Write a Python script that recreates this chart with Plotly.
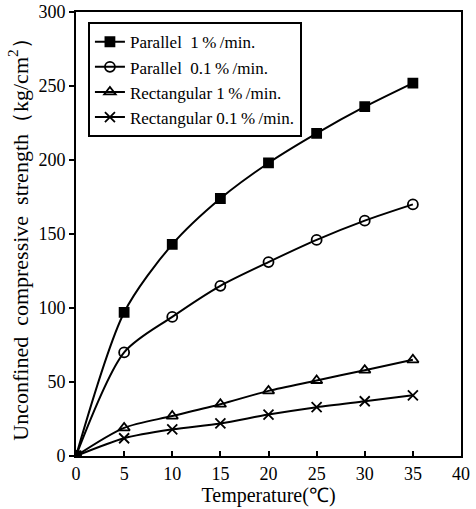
import plotly.graph_objects as go

# Temperature (°C) and unconfined compressive strength (kg/cm²)
temperature = [0, 5, 10, 15, 20, 25, 30, 35]
parallel_1 = [0, 97, 143, 174, 198, 218, 236, 252]
parallel_01 = [0, 70, 94, 115, 131, 146, 159, 170]
rect_1 = [0, 19, 27, 35, 44, 51, 58, 65]
rect_01 = [0, 12, 18, 22, 28, 33, 37, 41]

S = "\u00a0"   # non-breaking space keeps the wide gaps in labels
T = "\u2009"   # thin space around the percent sign
series_names = [f"Parallel{S}{S}1{T}%{T}/min.", f"Parallel{S}{S}0.1{T}%{T}/min.",
                f"Rectangular{S}1{T}%{T}/min.", f"Rectangular{S}0.1{T}%{T}/min."]
series_values = [parallel_1, parallel_01, rect_1, rect_01]
symbols = ["square", "circle-open", "triangle-up-open", "x-thin-open"]
sizes = [9, 10, 10, 10]

FONT = "Liberation Serif, Times New Roman, serif"

fig = go.Figure()
for name, vals, sym, sz in zip(series_names, series_values, symbols, sizes):
    fig.add_trace(go.Scatter(
        x=temperature, y=vals, name=name, mode="lines+markers",
        line=dict(color="black", width=2, shape="spline", smoothing=0.8),
        marker=dict(symbol=sym, size=sz, color="black",
                    line=dict(color="black", width=1.8)),
    ))

# common origin point
fig.add_trace(go.Scatter(
    x=[0], y=[0], mode="markers", showlegend=False,
    marker=dict(symbol="circle", size=11, color="black"),
))

y_title = f"Unconfined{S}{S}compressive{S}{S}strength（kg/cm<sup>2</sup>）"

fig.update_layout(
    width=476, height=509,
    margin=dict(l=76, r=15, t=12, b=53, autoexpand=False),
    plot_bgcolor="white", paper_bgcolor="white",
    font=dict(family=FONT, size=18, color="black"),
    showlegend=True,
    legend=dict(
        x=0.031, y=0.977, xanchor="left", yanchor="top",
        bgcolor="white", bordercolor="black", borderwidth=2,
        font=dict(family=FONT, size=17),
        tracegroupgap=0, itemwidth=30,
    ),
    xaxis=dict(
        range=[0, 40], tickvals=[0, 5, 10, 15, 20, 25, 30, 35, 40],
        ticks="inside", ticklen=5, tickwidth=2, tickcolor="black",
        showline=True, linecolor="black", linewidth=2, mirror=True,
        showgrid=False, zeroline=False, automargin=False,
        tickfont=dict(family=FONT, size=18),
        title=dict(text="Temperature(℃)", font=dict(family=FONT, size=20), standoff=4),
    ),
    yaxis=dict(
        range=[0, 300], tickvals=[0, 50, 100, 150, 200, 250, 300],
        ticks="outside", ticklen=5, tickwidth=2, tickcolor="black",
        showline=True, linecolor="black", linewidth=2, mirror=True,
        showgrid=False, zeroline=False, automargin=False,
        tickfont=dict(family=FONT, size=18),
        title=dict(text=y_title, font=dict(family=FONT, size=22), standoff=4),
    ),
)

fig.write_html("out.html")
